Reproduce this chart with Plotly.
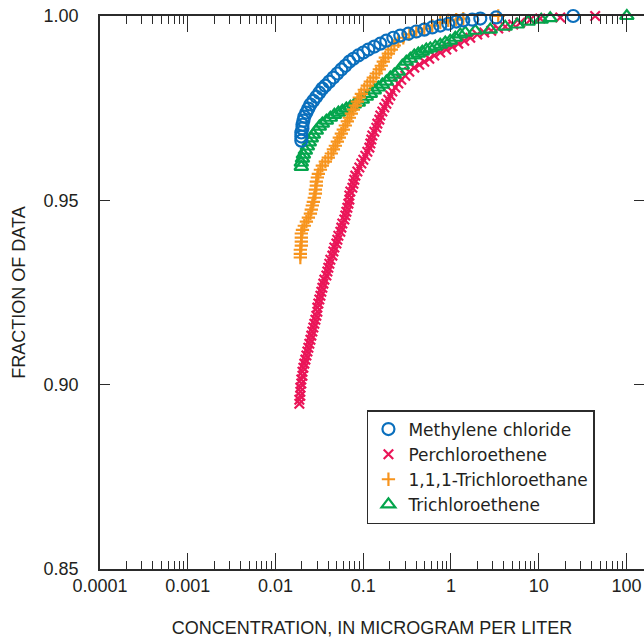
import plotly.graph_objects as go

# ---------------- data ----------------
blue_name = "Methylene chloride"
blue_conc = [0.0197, 0.0197, 0.0197, 0.0203, 0.0203, 0.0208, 0.0213, 0.0225, 0.0237, 0.0250,
             0.0270, 0.0292, 0.0316, 0.0342, 0.0370, 0.0411, 0.0457, 0.0507, 0.0563, 0.0625,
             0.0695, 0.0772, 0.0879, 0.1003, 0.1143, 0.1338, 0.1566, 0.1833, 0.2202, 0.2646,
             0.3265, 0.4025, 0.4965, 0.612, 0.755, 0.932, 1.149, 1.381, 1.748, 2.16,
             3.28, 24.7]
blue_frac = [0.9662, 0.9673, 0.9684, 0.9695, 0.9705, 0.9716, 0.9727, 0.9738, 0.9749, 0.9760,
             0.9770, 0.9781, 0.9792, 0.9803, 0.9811, 0.9822, 0.9833, 0.9844, 0.9855, 0.9865,
             0.9876, 0.9884, 0.9893, 0.9901, 0.9909, 0.9917, 0.9925, 0.9933, 0.9941, 0.9947,
             0.9952, 0.9958, 0.9963, 0.9969, 0.9974, 0.9979, 0.9985, 0.9988, 0.9990, 0.9993,
             0.9996, 1.0]

pink_name = "Perchloroethene"
pink_conc = [0.0187, 0.0187, 0.0192, 0.0192, 0.0192, 0.0197, 0.0197, 0.0203, 0.0203, 0.0208,
             0.0213, 0.0219, 0.0225, 0.0231, 0.0237, 0.0243, 0.0250, 0.0256, 0.0263, 0.0270,
             0.0277, 0.0285, 0.0292, 0.0300, 0.0300, 0.0308, 0.0316, 0.0325, 0.0333, 0.0342,
             0.0351, 0.0361, 0.0380, 0.0390, 0.0400, 0.0411, 0.0422, 0.0445, 0.0457, 0.0469,
             0.0494, 0.0507, 0.0521, 0.0548, 0.0563, 0.0578, 0.0609, 0.0625, 0.0642, 0.0659,
             0.0677, 0.0695, 0.0695, 0.0713, 0.0752, 0.0772, 0.0792, 0.0813, 0.0857, 0.0903,
             0.0952, 0.1003, 0.1057, 0.1114, 0.1174, 0.1205, 0.1237, 0.1270, 0.1338, 0.1410,
             0.1448, 0.1526, 0.1566, 0.1651, 0.1739, 0.1833, 0.1932, 0.2036, 0.2145, 0.2321,
             0.2511, 0.2716, 0.3017, 0.3350, 0.3820, 0.4355, 0.4966, 0.5662, 0.6454, 0.7554,
             0.8843, 1.035, 1.211, 1.418, 1.659, 1.994, 2.395, 2.878, 3.458, 4.155,
             5.124, 6.157, 8.004, 10.4, 17.6, 44.0]
pink_frac = [0.8948, 0.8959, 0.8970, 0.8981, 0.8992, 0.9003, 0.9014, 0.9024, 0.9035, 0.9046,
             0.9057, 0.9068, 0.9079, 0.9090, 0.9100, 0.9111, 0.9122, 0.9133, 0.9144, 0.9155,
             0.9165, 0.9176, 0.9187, 0.9198, 0.9209, 0.9220, 0.9231, 0.9241, 0.9252, 0.9263,
             0.9274, 0.9285, 0.9296, 0.9307, 0.9317, 0.9328, 0.9339, 0.9350, 0.9361, 0.9372,
             0.9383, 0.9393, 0.9404, 0.9415, 0.9426, 0.9437, 0.9448, 0.9459, 0.9469, 0.9480,
             0.9491, 0.9502, 0.9513, 0.9524, 0.9534, 0.9545, 0.9556, 0.9567, 0.9578, 0.9589,
             0.9600, 0.9610, 0.9621, 0.9632, 0.9643, 0.9654, 0.9665, 0.9676, 0.9686, 0.9697,
             0.9708, 0.9719, 0.9730, 0.9741, 0.9752, 0.9762, 0.9773, 0.9784, 0.9795, 0.9806,
             0.9817, 0.9827, 0.9838, 0.9849, 0.9860, 0.9868, 0.9876, 0.9884, 0.9893, 0.9901,
             0.9909, 0.9917, 0.9925, 0.9933, 0.9941, 0.9950, 0.9955, 0.9960, 0.9966, 0.9971,
             0.9977, 0.9982, 0.9990, 0.9993, 0.9996, 1.0]

orange_name = "1,1,1-Trichloroethane"
orange_conc = [0.0192, 0.0192, 0.0192, 0.0197, 0.0197, 0.0197, 0.0197, 0.0203, 0.0213, 0.0225,
               0.0237, 0.0250, 0.0256, 0.0263, 0.0270, 0.0277, 0.0285, 0.0285, 0.0292, 0.0292,
               0.0300, 0.0308, 0.0325, 0.0342, 0.0370, 0.0400, 0.0433, 0.0457, 0.0481, 0.0507,
               0.0534, 0.0563, 0.0593, 0.0625, 0.0659, 0.0695, 0.0732, 0.0772, 0.0813, 0.0857,
               0.0903, 0.0952, 0.1029, 0.1114, 0.1205, 0.1303, 0.1410, 0.1526, 0.1607, 0.1694,
               0.1786, 0.1932, 0.2089, 0.2260, 0.2511, 0.2862, 0.3350, 0.4025, 0.4966, 0.6122,
               0.7554, 0.9316, 1.149, 1.381, 3.458]
orange_frac = [0.9345, 0.9355, 0.9366, 0.9377, 0.9388, 0.9399, 0.9410, 0.9420, 0.9431, 0.9442,
               0.9453, 0.9464, 0.9475, 0.9486, 0.9496, 0.9507, 0.9518, 0.9529, 0.9540, 0.9551,
               0.9562, 0.9572, 0.9583, 0.9594, 0.9605, 0.9616, 0.9627, 0.9638, 0.9648, 0.9659,
               0.9670, 0.9681, 0.9692, 0.9703, 0.9714, 0.9724, 0.9735, 0.9746, 0.9757, 0.9768,
               0.9779, 0.9789, 0.9800, 0.9811, 0.9822, 0.9833, 0.9844, 0.9855, 0.9865, 0.9876,
               0.9887, 0.9898, 0.9909, 0.9920, 0.9931, 0.9941, 0.9950, 0.9958, 0.9966, 0.9974,
               0.9982, 0.9988, 0.9990, 0.9993, 1.0]

green_name = "Trichloroethene"
green_conc = [0.0197, 0.0197, 0.0203, 0.0208, 0.0219, 0.0231, 0.0243, 0.0256, 0.0270, 0.0292,
              0.0316, 0.0342, 0.0380, 0.0422, 0.0469, 0.0521, 0.0578, 0.0642, 0.0713, 0.0792,
              0.0879, 0.0977, 0.1085, 0.1205, 0.1338, 0.1486, 0.1651, 0.1833, 0.2036, 0.2260,
              0.2511, 0.2788, 0.3096, 0.3439, 0.3820, 0.4242, 0.4711, 0.5233, 0.5811, 0.6627,
              0.7554, 0.8612, 0.9818, 1.119, 1.276, 1.455, 1.891, 2.803, 4.155, 5.690,
              7.593, 10.68, 13.52, 101.0]
green_frac = [0.9591, 0.9602, 0.9613, 0.9624, 0.9635, 0.9646, 0.9657, 0.9668, 0.9678, 0.9689,
              0.9700, 0.9708, 0.9716, 0.9724, 0.9732, 0.9738, 0.9743, 0.9749, 0.9754, 0.9760,
              0.9765, 0.9773, 0.9781, 0.9789, 0.9798, 0.9806, 0.9814, 0.9822, 0.9833, 0.9841,
              0.9849, 0.9865, 0.9876, 0.9884, 0.9893, 0.9898, 0.9903, 0.9909, 0.9912, 0.9917,
              0.9922, 0.9928, 0.9933, 0.9941, 0.9950, 0.9955, 0.9960, 0.9963, 0.9971, 0.9977,
              0.9985, 0.9990, 0.9994, 1.0]

x_tick_vals = [0.0001, 0.001, 0.01, 0.1, 1, 10, 100]
x_tick_text = ["0.0001", "0.001", "0.01", "0.1", "1", "10", "100"]
x_minor_vals = [m * d for d in [0.0001, 0.001, 0.01, 0.1, 1, 10] for m in range(2, 10)]
y_tick_vals = [0.85, 0.90, 0.95, 1.00]
y_tick_text = ["0.85", "0.90", "0.95", "1.00"]

# ---------------- styling ----------------
BLUE = "#0a6fbd"
PINK = "#ea1558"
ORANGE = "#f7941d"
GREEN = "#04a54c"
INK = "#231f20"
AXIS = "#2b2b2b"
FONT = "Liberation Sans, Arial, sans-serif"

fig = go.Figure()
# drawing order: pink bottom, then green, orange, blue on top
traces = [
    (pink_name, pink_conc, pink_frac, "x-thin-open", 9.5, PINK, 2),
    (green_name, green_conc, green_frac, "triangle-up-open", 12, GREEN, 4),
    (orange_name, orange_conc, orange_frac, "cross-thin-open", 9.5, ORANGE, 3),
    (blue_name, blue_conc, blue_frac, "circle-open", 12, BLUE, 1),
]
for name, xs, ys, sym, size, color, rank in traces:
    fig.add_trace(go.Scatter(
        x=xs, y=ys, mode="markers", name=name, legendrank=rank,
        cliponaxis=False,
        marker=dict(symbol=sym, size=size, color=color,
                    line=dict(width=2.2, color=color)),
    ))

axis_common = dict(
    showgrid=False, zeroline=False, showline=True, linecolor=AXIS, linewidth=1.5,
    mirror="ticks", ticks="inside", tickcolor=AXIS, tickwidth=1.3,
    tickfont=dict(family=FONT, size=18, color=INK),
)

fig.update_layout(
    width=644, height=639,
    margin=dict(l=100, r=0, t=16, b=70, autoexpand=False),
    paper_bgcolor="white", plot_bgcolor="white",
    showlegend=True,
    legend=dict(
        x=0.4907, y=0.2875, xanchor="left", yanchor="top",
        bordercolor=AXIS, borderwidth=1.5, bgcolor="white",
        font=dict(family="DejaVu Sans", size=17, color=INK),
        tracegroupgap=0, itemwidth=30,
    ),
    xaxis=dict(
        type="log", range=[-4, 2.2],
        tickmode="array", tickvals=x_tick_vals, ticktext=x_tick_text,
        ticklen=16, ticklabelstandoff=0,
        minor=dict(tickmode="array", tickvals=x_minor_vals, ticks="inside",
                   ticklen=8, tickwidth=1.3, tickcolor=AXIS, showgrid=False),
        title=dict(text="CONCENTRATION, IN MICROGRAM PER LITER",
                   font=dict(family=FONT, size=18, color=INK), standoff=26),
        automargin=False,
        **axis_common,
    ),
    yaxis=dict(
        range=[0.85, 1.0],
        tickmode="array", tickvals=y_tick_vals, ticktext=y_tick_text,
        ticklen=10, ticklabelstandoff=16,
        title=dict(text="FRACTION OF DATA",
                   font=dict(family=FONT, size=18, color=INK), standoff=13),
        automargin=False,
        **axis_common,
    ),
)

fig.write_html("out.html")
